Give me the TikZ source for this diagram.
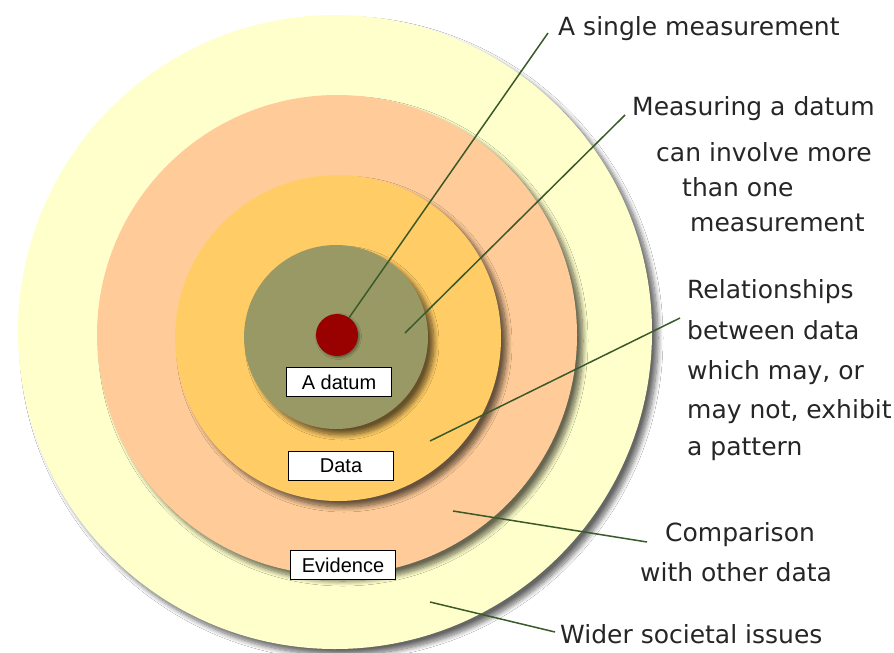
\documentclass[tikz,border=0pt]{standalone}
\usepackage{fontspec}
\setmainfont{DejaVu Sans}
\newfontfamily\boxfont{Liberation Sans}
\usetikzlibrary{shadows.blur}
\definecolor{ringA}{HTML}{FFFFCC}
\definecolor{ringB}{HTML}{FFCC99}
\definecolor{ringC}{HTML}{FFCC66}
\definecolor{ringD}{HTML}{999966}
\definecolor{dotred}{HTML}{990000}
\definecolor{leader}{HTML}{3A5A2A}
\begin{document}
\begin{tikzpicture}[x=1pt,y=-1pt,
  ring/.style={circle, draw=none, inner sep=0pt, minimum size=#1,
    blur shadow={shadow xshift=6pt, shadow yshift=-6pt, shadow blur steps=10,
      shadow blur radius=5pt, shadow opacity=60}},
  tag/.style={draw=black, line width=1.4pt, fill=white, inner sep=0pt,
    minimum width=105pt, minimum height=29pt, font=\boxfont\fontsize{20}{20}\selectfont},
  lab/.style={anchor=base west, inner sep=0pt, font=\fontsize{25}{25}\selectfont, text=black!85},
  lead/.style={draw=leader, line width=1.5pt}
]
\useasboundingbox (0,0) rectangle (894,653);
\fill[white] (0,0) rectangle (894,653);

\node[ring=634pt, fill=ringA] (wider) at (335,332) {};
\node[ring=480pt, fill=ringB] (evid) at (337,335) {};
\node[ring=326pt, fill=ringC] (data) at (338,338) {};
\node[ring=184pt, fill=ringD] (datum) at (336,337) {};

% labels
\node[lab] (l1) at (558,35) {A single measurement};
\node[lab] (l2a) at (632,115) {Measuring a datum};
\node[lab] (l2b) at (656,161) {can involve more};
\node[lab] (l2c) at (682,196) {than one};
\node[lab] (l2d) at (690,231) {measurement};
\node[lab] (l3a) at (687,298) {Relationships};
\node[lab] (l3b) at (687,339) {between data};
\node[lab] (l3c) at (687,379) {which may, or};
\node[lab] (l3d) at (687,418) {may not, exhibit};
\node[lab] (l3e) at (687,455) {a pattern};
\node[lab] (l4a) at (665,541) {Comparison};
\node[lab] (l4b) at (640,581) {with other data};
\node[lab] (l5) at (560,643) {Wider societal issues};

% leader end points
\coordinate (e1) at (548,33);
\coordinate (e2) at (625,115);
\coordinate (s2) at (405,333);
\coordinate (e3) at (680,318);
\coordinate (s3) at (430,441);
\coordinate (e4) at (647,542);
\coordinate (s4) at (453,511);
\coordinate (e5) at (555,632);
\coordinate (s5) at (430,602);

\node[circle, fill=dotred, inner sep=0pt, minimum size=42pt,
  blur shadow={shadow xshift=1.5pt, shadow yshift=-1.5pt, shadow blur radius=2pt, shadow opacity=40}] (dot) at (337,335) {};

\draw[lead] (dot) -- (e1);
\draw[lead] (s2) -- (e2);
\draw[lead] (s3) -- (e3);
\draw[lead] (s4) -- (e4);
\draw[lead] (s5) -- (e5);

\node[tag] (b1) at (339,382) {A datum};
\node[tag] (b2) at (341,466) {Data};
\node[tag] (b3) at (343,565) {Evidence};
\end{tikzpicture}
\end{document}
